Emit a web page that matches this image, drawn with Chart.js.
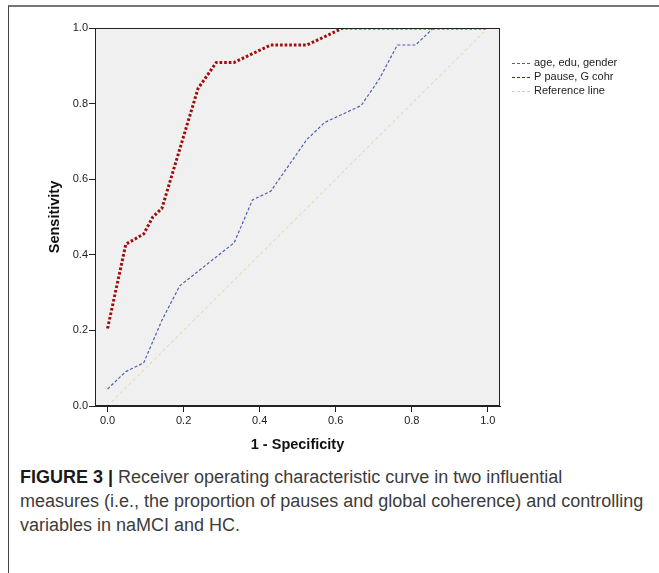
<!DOCTYPE html>
<html>
<head>
<meta charset="utf-8">
<script src="https://cdn.jsdelivr.net/npm/chart.js@4"></script>
<style>
  body { margin: 0; background: #fff; width: 659px; height: 573px; overflow: hidden; position: relative; }
  #frame { position: absolute; left: 8px; top: 5px; width: 700px; height: 620px;
           border-left: 1px solid #444; border-top: 2px solid #777; }
  #chart { position: absolute; left: 0; top: 0; }
  #caption { position: absolute; left: 20px; top: 465px; font-family: "Liberation Sans", Arial, sans-serif;
             font-size: 18px; line-height: 24px; color: #3c3c3c; white-space: nowrap; }
  #caption b { color: #1a1a1a; }
</style>
</head>
<body>
<div id="frame"></div>
<canvas id="chart" width="659" height="460"></canvas>
<div id="caption"><b>FIGURE 3 |</b> Receiver operating characteristic curve in two influential<br>measures (i.e., the proportion of pauses and global coherence) and controlling<br>variables in naMCI and HC.</div>
<script>
// ROC data (1 - specificity vs sensitivity)
const seriesNames = ['age, edu, gender', 'P pause, G cohr', 'Reference line'];

const ageFpr = [0, 0.048, 0.095, 0.143, 0.19, 0.333, 0.381, 0.429, 0.524, 0.571, 0.667, 0.714, 0.762, 0.81, 0.857, 1.0];
const ageTpr = [0.045, 0.091, 0.114, 0.227, 0.318, 0.432, 0.545, 0.568, 0.705, 0.75, 0.795, 0.864, 0.955, 0.955, 1.0, 1.0];

const pauseFpr = [0, 0.048, 0.095, 0.119, 0.143, 0.19, 0.238, 0.286, 0.333, 0.381, 0.429, 0.524, 0.571, 0.619, 1.0];
const pauseTpr = [0.205, 0.428, 0.455, 0.5, 0.523, 0.68, 0.84, 0.909, 0.909, 0.932, 0.955, 0.955, 0.977, 1.0, 1.0];

const refX = [0, 1];
const refY = [0, 1];

const tickValues = [0, 0.2, 0.4, 0.6, 0.8, 1.0];

// turn two arrays into {x, y} points
function toPoints(xs, ys) {
    return xs.map((x, i) => ({ x: x, y: ys[i] }));
}

const seriesColors = ['#4f5fae', '#a00d0d', '#d6d6a2'];
const seriesDash = [[3, 2], [2.6, 2], [3, 3]];
const seriesWidth = [1.2, 3, 1];

// grey plot background plus black frame
const plotFrame = {
    id: 'plotFrame',
    beforeDraw(chart) {
        const a = chart.chartArea;
        const ctx = chart.ctx;
        ctx.save();
        ctx.fillStyle = '#f0f0f0';
        ctx.fillRect(a.left, a.top, a.right - a.left, a.bottom - a.top);
        ctx.restore();
    },
    afterDraw(chart) {
        const a = chart.chartArea;
        const ctx = chart.ctx;
        ctx.save();
        ctx.strokeStyle = '#222';
        ctx.lineWidth = 1;
        ctx.strokeRect(a.left + 0.5, a.top + 0.5, a.right - a.left - 1, a.bottom - a.top - 1);
        ctx.restore();
    }
};

// legend to the right of the plot, like the SPSS output
const sideLegend = {
    id: 'sideLegend',
    afterDraw(chart) {
        const ctx = chart.ctx;
        const x0 = chart.chartArea.right + 12;
        let y = 63;
        ctx.save();
        ctx.font = '11px "Liberation Sans", Arial, sans-serif';
        ctx.textBaseline = 'middle';
        chart.data.datasets.forEach((ds, i) => {
            ctx.strokeStyle = ds.borderColor;
            ctx.lineWidth = 1.2;
            ctx.setLineDash([3, 2]);
            ctx.beginPath();
            ctx.moveTo(x0, y + 0.5);
            ctx.lineTo(x0 + 19, y + 0.5);
            ctx.stroke();
            ctx.setLineDash([]);
            ctx.fillStyle = '#222';
            ctx.fillText(ds.label, x0 + 22, y);
            y += 14;
        });
        ctx.restore();
    }
};

const datasets = [
    toPoints(ageFpr, ageTpr),
    toPoints(pauseFpr, pauseTpr),
    toPoints(refX, refY)
].map((pts, i) => ({
    label: seriesNames[i],
    data: pts,
    showLine: true,
    borderColor: seriesColors[i],
    backgroundColor: seriesColors[i],
    borderWidth: seriesWidth[i],
    borderDash: seriesDash[i],
    borderCapStyle: 'butt',
    pointRadius: 0,
    tension: 0
}));

const axisFont = { family: '"Liberation Sans", Arial, sans-serif', size: 11 };
const titleFont = { family: '"Liberation Sans", Arial, sans-serif', size: 14.5, weight: 'bold' };

new Chart(document.getElementById('chart').getContext('2d'), {
    type: 'scatter',
    data: { datasets: datasets },
    options: {
        responsive: false,
        animation: false,
        layout: { padding: { top: 28, right: 159, bottom: 0, left: 42 } },
        plugins: { legend: { display: false }, tooltip: { enabled: false } },
        scales: {
            x: {
                type: 'linear',
                min: -0.033,
                max: 1.032,
                afterBuildTicks(scale) { scale.ticks = tickValues.map(v => ({ value: v })); },
                afterFit(scale) { scale.height = 54; },
                ticks: { font: axisFont, color: '#222', padding: 2, callback: v => v.toFixed(1), autoSkip: false, maxRotation: 0 },
                grid: { drawOnChartArea: false, tickLength: 6, color: '#222' },
                border: { color: '#222' },
                title: { display: true, text: '1 - Specificity', font: titleFont, color: '#111', padding: { top: 4, bottom: 6 } }
            },
            y: {
                type: 'linear',
                min: 0,
                max: 1,
                afterBuildTicks(scale) { scale.ticks = tickValues.map(v => ({ value: v })); },
                afterFit(scale) { scale.width = 53; },
                ticks: { font: axisFont, color: '#222', padding: 1, callback: v => v.toFixed(1), autoSkip: false },
                grid: { drawOnChartArea: false, tickLength: 6, color: '#222' },
                border: { color: '#222' },
                title: { display: true, text: 'Sensitivity', font: titleFont, color: '#111', padding: { top: 4, bottom: 4 } }
            }
        }
    },
    plugins: [plotFrame, sideLegend]
});
</script>
</body>
</html>
